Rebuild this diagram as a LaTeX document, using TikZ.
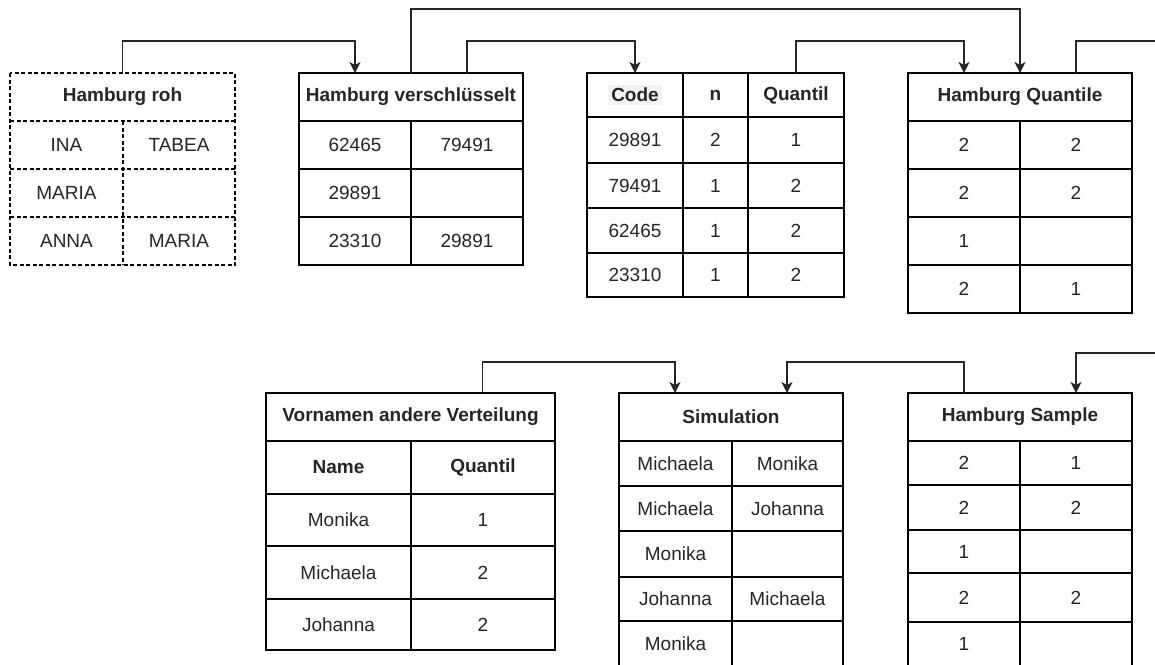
\documentclass[tikz,border=0pt]{standalone}
\usepackage{fontspec}
\setmainfont{Liberation Sans}
\usetikzlibrary{arrows.meta,calc}
\newcommand\tcell[7]{%
  \node[#6, minimum width={(#4-#2)*1pt}, minimum height={(#5-#3)*1pt}] (#1) at ({(#2+#4)/2},{(#3+#5)/2}) {#7};}
\tikzset{
  base/.style={inner sep=0pt, outer sep=0pt, text=black!85, font=\fontsize{19}{22}\selectfont},
  cell/.style={base, draw, line width=1.3pt},
  hcell/.style={cell, font=\fontsize{19}{22}\selectfont\bfseries},
  scell/.style={base, draw, line width=2.6pt},
  shcell/.style={scell, font=\fontsize{19}{22}\selectfont\bfseries},
  dcell/.style={base},
  dhcell/.style={base, font=\fontsize{19}{22}\selectfont\bfseries},
  dashline/.style={line width=1.3pt, dash pattern=on 4pt off 2.5pt},
  conn/.style={draw, line width=1.3pt, black!85, -{Stealth[length=11pt,width=11pt,inset=3pt]}},
  plain/.style={draw, line width=1.3pt, black!85},
}
\begin{document}
\begin{tikzpicture}[x=1pt,y=-1pt]
\clip (0,0) rectangle (1155,664);
\fill[white] (0,0) rectangle (1155,664);

% Table 1: Hamburg roh (dashed)
\tcell{t1h}{10}{73}{235}{121}{dhcell}{Hamburg roh}
\tcell{t1a1}{10}{121}{123}{169}{dcell}{INA}
\tcell{t1a2}{123}{121}{235}{169}{dcell}{TABEA}
\tcell{t1b1}{10}{169}{123}{217}{dcell}{MARIA}
\tcell{t1b2}{123}{169}{235}{217}{dcell}{}
\tcell{t1c1}{10}{217}{123}{265}{dcell}{ANNA}
\tcell{t1c2}{123}{217}{235}{265}{dcell}{MARIA}
\draw[dashline] (t1h.north west) rectangle (t1c2.south east);
\draw[dashline] (t1h.south west) -- (t1h.south east);
\draw[dashline] (t1a1.south west) -- (t1a2.south east);
\draw[dashline] (t1b1.south west) -- (t1b2.south east);
\draw[dashline] (t1a1.north east) -- (t1c1.south east);

% Table 2: Hamburg verschluesselt
\tcell{t2h}{299}{73}{523}{121}{hcell}{Hamburg verschlüsselt}
\tcell{t2a1}{299}{121}{411}{169}{cell}{62465}
\tcell{t2a2}{411}{121}{523}{169}{cell}{79491}
\tcell{t2b1}{299}{169}{411}{217}{cell}{29891}
\tcell{t2b2}{411}{169}{523}{217}{cell}{}
\tcell{t2c1}{299}{217}{411}{265}{cell}{23310}
\tcell{t2c2}{411}{217}{523}{265}{cell}{29891}

% Table 3: Code / n / Quantil
\tcell{t3h1}{587}{73}{683}{117}{hcell}{\setlength\fboxsep{3pt}\colorbox[HTML]{F3F3F3}{Code}}
\tcell{t3h2}{683}{73}{748}{117}{hcell}{n}
\tcell{t3h3}{748}{73}{844}{117}{hcell}{Quantil}
\tcell{t3a1}{587}{117}{683}{163}{cell}{29891}
\tcell{t3a2}{683}{117}{748}{163}{cell}{2}
\tcell{t3a3}{748}{117}{844}{163}{cell}{1}
\tcell{t3b1}{587}{163}{683}{208}{cell}{79491}
\tcell{t3b2}{683}{163}{748}{208}{cell}{1}
\tcell{t3b3}{748}{163}{844}{208}{cell}{2}
\tcell{t3c1}{587}{208}{683}{253}{cell}{62465}
\tcell{t3c2}{683}{208}{748}{253}{cell}{1}
\tcell{t3c3}{748}{208}{844}{253}{cell}{2}
\tcell{t3d1}{587}{253}{683}{297}{cell}{23310}
\tcell{t3d2}{683}{253}{748}{297}{cell}{1}
\tcell{t3d3}{748}{253}{844}{297}{cell}{2}

% Table 4: Hamburg Quantile
\tcell{t4h}{908}{73}{1132}{121}{hcell}{Hamburg Quantile}
\tcell{t4a1}{908}{121}{1020}{169}{cell}{2}
\tcell{t4a2}{1020}{121}{1132}{169}{cell}{2}
\tcell{t4b1}{908}{169}{1020}{217}{cell}{2}
\tcell{t4b2}{1020}{169}{1132}{217}{cell}{2}
\tcell{t4c1}{908}{217}{1020}{265}{cell}{1}
\tcell{t4c2}{1020}{217}{1132}{265}{cell}{}
\tcell{t4d1}{908}{265}{1020}{313}{cell}{2}
\tcell{t4d2}{1020}{265}{1132}{313}{cell}{1}

% Table 5: Vornamen andere Verteilung
\tcell{t5h}{266}{393}{555}{441}{hcell}{Vornamen andere Verteilung}
\tcell{t5k1}{266}{441}{411}{494}{hcell}{Name}
\tcell{t5k2}{411}{441}{555}{494}{hcell}{Quantil}
\tcell{t5a1}{266}{494}{411}{546}{cell}{Monika}
\tcell{t5a2}{411}{494}{555}{546}{cell}{1}
\tcell{t5b1}{266}{546}{411}{599}{cell}{Michaela}
\tcell{t5b2}{411}{546}{555}{599}{cell}{2}
\tcell{t5c1}{266}{599}{411}{650}{cell}{Johanna}
\tcell{t5c2}{411}{599}{555}{650}{cell}{2}

% Table 6: Simulation
\tcell{t6h}{619}{393}{843}{441}{shcell}{Simulation}
\tcell{t6a1}{619}{441}{732}{486}{scell}{Michaela}
\tcell{t6a2}{732}{441}{843}{486}{scell}{Monika}
\tcell{t6b1}{619}{486}{732}{531}{scell}{Michaela}
\tcell{t6b2}{732}{486}{843}{531}{scell}{Johanna}
\tcell{t6c1}{619}{531}{732}{577}{scell}{Monika}
\tcell{t6c2}{732}{531}{843}{577}{scell}{}
\tcell{t6d1}{619}{577}{732}{621}{scell}{Johanna}
\tcell{t6d2}{732}{577}{843}{621}{scell}{Michaela}
\tcell{t6e1}{619}{621}{732}{666}{scell}{Monika}
\tcell{t6e2}{732}{621}{843}{666}{scell}{}

% Table 7: Hamburg Sample
\tcell{t7h}{908}{393}{1132}{441}{hcell}{Hamburg Sample}
\tcell{t7a1}{908}{441}{1020}{485}{cell}{2}
\tcell{t7a2}{1020}{441}{1132}{485}{cell}{1}
\tcell{t7b1}{908}{485}{1020}{530}{cell}{2}
\tcell{t7b2}{1020}{485}{1132}{530}{cell}{2}
\tcell{t7c1}{908}{530}{1020}{573}{cell}{1}
\tcell{t7c2}{1020}{530}{1132}{573}{cell}{}
\tcell{t7d1}{908}{573}{1020}{622}{cell}{2}
\tcell{t7d2}{1020}{573}{1132}{622}{cell}{2}
\tcell{t7e1}{908}{622}{1020}{666}{cell}{1}
\tcell{t7e2}{1020}{622}{1132}{666}{cell}{}

% connector anchor points
\coordinate (t2q1) at ($(t2h.north west)!0.25!(t2h.north east)$);
\coordinate (t2q3) at ($(t2h.north west)!0.75!(t2h.north east)$);
\coordinate (t4q1) at ($(t4h.north west)!0.25!(t4h.north east)$);
\coordinate (t4q3) at ($(t4h.north west)!0.75!(t4h.north east)$);
\coordinate (t5q3) at ($(t5h.north west)!0.75!(t5h.north east)$);
\coordinate (t6q1) at ($(t6h.north west)!0.25!(t6h.north east)$);
\coordinate (t6q3) at ($(t6h.north west)!0.75!(t6h.north east)$);
\coordinate (t7q1) at ($(t7h.north west)!0.25!(t7h.north east)$);
\coordinate (t7q3) at ($(t7h.north west)!0.75!(t7h.north east)$);
\coordinate (outR) at (1165,41);
\coordinate (inR) at (1165,353);

% connectors
\draw[conn] (t1h.north) -- ++(0,-32) -| (t2q1);
\draw[conn] (t2h.north) -- ++(0,-64) -| (t4h.north);
\draw[conn] (t2q3) -- ++(0,-32) -| (t3h1.north);
\draw[conn] (t3h3.north) -- ++(0,-32) -| (t4q1);
\draw[plain] (t4q3) -- ++(0,-32) -- (outR);
\draw[conn] (inR) -| (t7q3);
\draw[conn] (t5q3) -- ++(0,-31) -| (t6q1);
\draw[conn] (t7q1) -- ++(0,-31) -| (t6q3);
\end{tikzpicture}
\end{document}
